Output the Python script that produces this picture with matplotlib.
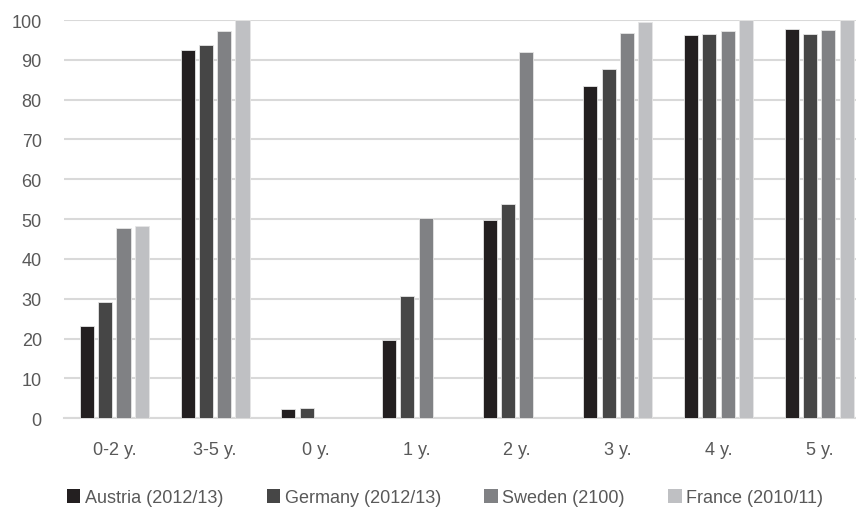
import matplotlib.pyplot as plt
import numpy as np

plt.rcParams['font.family'] = ['Liberation Sans', 'DejaVu Sans']

categories = ["0-2 y.", "3-5 y.", "0 y.", "1 y.", "2 y.", "3 y.", "4 y.", "5 y."]
series_names = ["Austria (2012/13)", "Germany (2012/13)", "Sweden (2100)", "France (2010/11)"]
austria = [23.2, 92.5, 2.3, 19.6, 49.7, 83.5, 96.3, 97.8]
germany = [29.2, 93.6, 2.6, 30.7, 53.8, 87.6, 96.5, 96.5]
sweden = [47.7, 97.2, 0, 50.3, 91.9, 96.7, 97.3, 97.5]
france = [48.3, 100, 0, 0, 0, 99.5, 100, 100]
colors = ["#231f20", "#464646", "#808184", "#bfc0c3"]

fig = plt.figure(figsize=(8.56, 5.10), dpi=100)
ax = fig.add_axes([64 / 856, (510 - 419.3) / 510, 805.6 / 856, 398.3 / 510])

x = np.arange(len(categories))
slot = 0.182
width = 0.14
for i, (vals, name, c) in enumerate(zip([austria, germany, sweden, france], series_names, colors)):
    ax.bar(x + (i - 1.5) * slot, vals, width, color=c, label=name,
           edgecolor="#e6e6e6", linewidth=0.6, zorder=3)

ax.set_xlim(-0.5, len(categories) - 0.5)
ax.set_ylim(0, 100)
ax.set_yticks(range(0, 101, 10))
ax.yaxis.grid(True, color="#d9d9d9", linewidth=1.5, zorder=0)
ax.set_xticks(x)
ax.set_xticklabels(categories)
ax.tick_params(axis="both", length=0, labelsize=13, colors="#595959")
ax.tick_params(axis="y", pad=16)
ax.tick_params(axis="x", pad=16)
for s in ["top", "right", "left"]:
    ax.spines[s].set_visible(False)
ax.spines["bottom"].set_color("#d9d9d9")
ax.spines["bottom"].set_linewidth(1.5)

leg = fig.legend(loc="center", bbox_to_anchor=(0.52, 0.022), ncol=4, frameon=False,
                 fontsize=13, handlelength=0.75, handleheight=0.75, handletextpad=0.25,
                 columnspacing=2.4, labelcolor="#595959")
for h in leg.legend_handles:
    h.set_edgecolor("none")

fig.savefig("out.png", dpi=100)
